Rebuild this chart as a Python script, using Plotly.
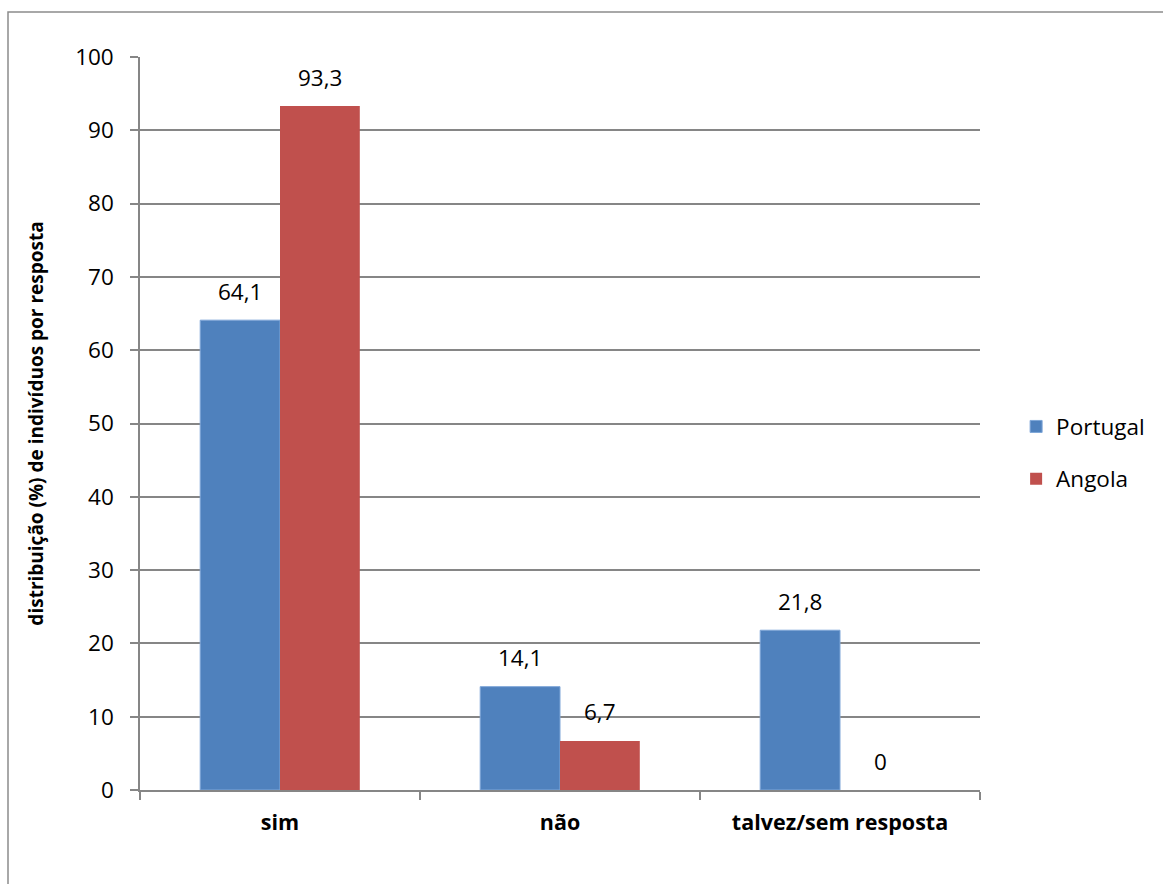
import plotly.graph_objects as go

categories = ["sim", "não", "talvez/sem resposta"]
portugal = [64.1, 14.1, 21.8]
angola = [93.3, 6.7, 0]
portugal_labels = ["64,1", "14,1", "21,8"]
angola_labels = ["93,3", "6,7", "0"]
y_ticks = [0, 10, 20, 30, 40, 50, 60, 70, 80, 90, 100]

FONT = "Open Sans"
GRID = "#868686"

fig = go.Figure()
fig.add_trace(go.Bar(x=categories, y=portugal, name="Portugal", legendgroup="p",
                     marker=dict(color="#4F81BD", line=dict(color="#7EA6D8", width=1))))
fig.add_trace(go.Bar(x=categories, y=angola, name="Angola", legendgroup="a",
                     marker=dict(color="#C0504D", line=dict(width=0))))

annotations = []
for series, labels, shift in [(portugal, portugal_labels, -40), (angola, angola_labels, 40)]:
    for c, v, t in zip(categories, series, labels):
        annotations.append(dict(x=c, y=v, text=t, showarrow=False, xshift=shift, yshift=29,
                                font=dict(family=FONT, size=22.5, color="#000000")))

fig.update_layout(
    width=1163, height=884,
    margin=dict(l=140, r=183, t=57, b=94),
    paper_bgcolor="white", plot_bgcolor="white",
    barmode="group", bargap=0.43, bargroupgap=0,
    font=dict(family=FONT, size=22, color="#000000"),
    showlegend=True,
    legend=dict(x=1.043, y=0.46, xanchor="left", yanchor="middle",
                font=dict(family=FONT, size=22.5), tracegroupgap=20,
                bgcolor="rgba(0,0,0,0)"),
    annotations=annotations,
    shapes=[dict(type="rect", xref="paper", yref="paper",
                 x0=(8 - 140) / 840, x1=(1180 - 140) / 840,
                 y0=(790 - 900) / 733, y1=(790 - 12) / 733,
                 line=dict(color="#8C8C8C", width=1.5), fillcolor="rgba(0,0,0,0)", layer="below")],
)
fig.update_xaxes(type="category", showgrid=False, showline=True, linecolor=GRID, linewidth=1.5,
                 ticks="outside", tickson="boundaries", ticklen=8, tickcolor=GRID, tickwidth=1.5,
                 tickfont=dict(family=FONT, size=21.5, weight="bold"), ticklabelstandoff=12)
fig.update_yaxes(range=[0, 100], tickvals=y_ticks, showgrid=True, gridcolor=GRID, gridwidth=1.5,
                 showline=True, linecolor=GRID, linewidth=1.5, zeroline=False,
                 ticks="outside", ticklen=8, tickcolor=GRID, tickwidth=1.5,
                 tickfont=dict(family=FONT, size=22.5), ticklabelstandoff=12,
                 title=dict(text="distribuição (%) de indivíduos por resposta", standoff=26,
                            font=dict(family=FONT, size=19, weight="bold")))

fig.write_html("out.html")
